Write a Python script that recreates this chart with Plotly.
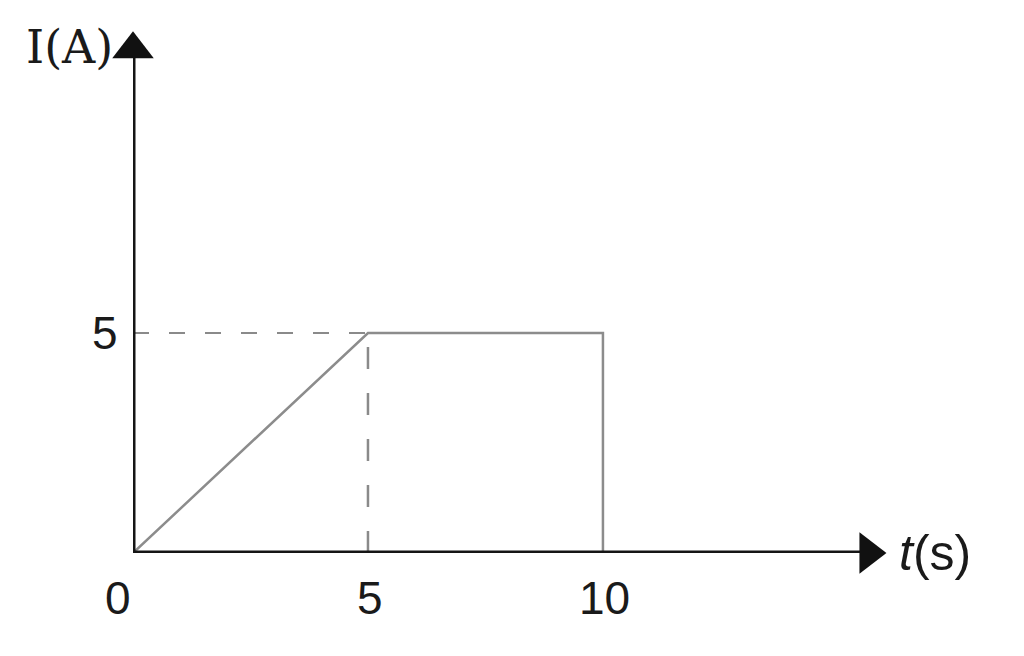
import plotly.graph_objects as go

# data
t_vals = [0, 5, 10, 10]
i_vals = [0, 5, 5, 0]
x_ticks = [0, 5, 10]
x_tick_text = ["0", "5", "10"]
y_ticks = [5]
y_tick_text = ["5"]
x_axis_end = 15.65
y_axis_end = 11.45

fig = go.Figure()

# dashed guides
fig.add_trace(go.Scatter(x=[0, 5], y=[5, 5], mode="lines",
                         line=dict(color="#8a8a8a", width=2, dash="16px,20px"), hoverinfo="skip"))
fig.add_trace(go.Scatter(x=[5, 5], y=[0, 5], mode="lines",
                         line=dict(color="#8a8a8a", width=2.5, dash="22px,24px"), hoverinfo="skip"))
# current curve
fig.add_trace(go.Scatter(x=t_vals, y=i_vals, mode="lines",
                         line=dict(color="#8c8c8c", width=2.5), hoverinfo="skip"))
# axes
fig.add_trace(go.Scatter(x=[0, x_axis_end], y=[0, 0], mode="lines",
                         line=dict(color="#151515", width=5), hoverinfo="skip", cliponaxis=False))
fig.add_trace(go.Scatter(x=[0, 0], y=[0, y_axis_end], mode="lines",
                         line=dict(color="#151515", width=5), hoverinfo="skip", cliponaxis=False))
# arrow heads
fig.add_trace(go.Scatter(x=[x_axis_end], y=[0], mode="markers",
                         marker=dict(symbol="triangle-right", size=36, color="#111"),
                         hoverinfo="skip", cliponaxis=False))
fig.add_trace(go.Scatter(x=[0], y=[y_axis_end], mode="markers",
                         marker=dict(symbol="triangle-up", size=36, color="#111"),
                         hoverinfo="skip", cliponaxis=False))

tick_font = dict(family="Liberation Sans, Arial", size=46, color="#1a1a1a")
ann = []
for xv, txt in zip(x_ticks, x_tick_text):
    ann.append(dict(x=xv, y=0, text=txt, showarrow=False, font=tick_font,
                    xshift=-15 if xv == 0 else 2, yshift=-45, xanchor="center", yanchor="middle"))
for yv, txt in zip(y_ticks, y_tick_text):
    ann.append(dict(x=0, y=yv, text=txt, showarrow=False, font=tick_font,
                    xshift=-28, xanchor="center", yanchor="middle"))
ann.append(dict(x=0, y=y_axis_end, text="I(A)", showarrow=False,
                font=dict(family="DejaVu Serif, Liberation Serif", size=46, color="#1a1a1a"),
                xshift=-64, yshift=2, xanchor="center", yanchor="middle"))
ann.append(dict(x=x_axis_end, y=0, text="<i>t</i>(s)", showarrow=False,
                font=dict(family="Liberation Sans, Arial", size=50, color="#1a1a1a"),
                xshift=67, yshift=0, xanchor="center", yanchor="middle"))

fig.update_layout(
    width=1024, height=656,
    margin=dict(l=125, r=133, t=17, b=111),
    paper_bgcolor="white", plot_bgcolor="white",
    showlegend=False,
    xaxis=dict(range=[0, 16.3], visible=False),
    yaxis=dict(range=[0, 12.0], visible=False),
    annotations=ann,
)
fig.write_html("out.html")
